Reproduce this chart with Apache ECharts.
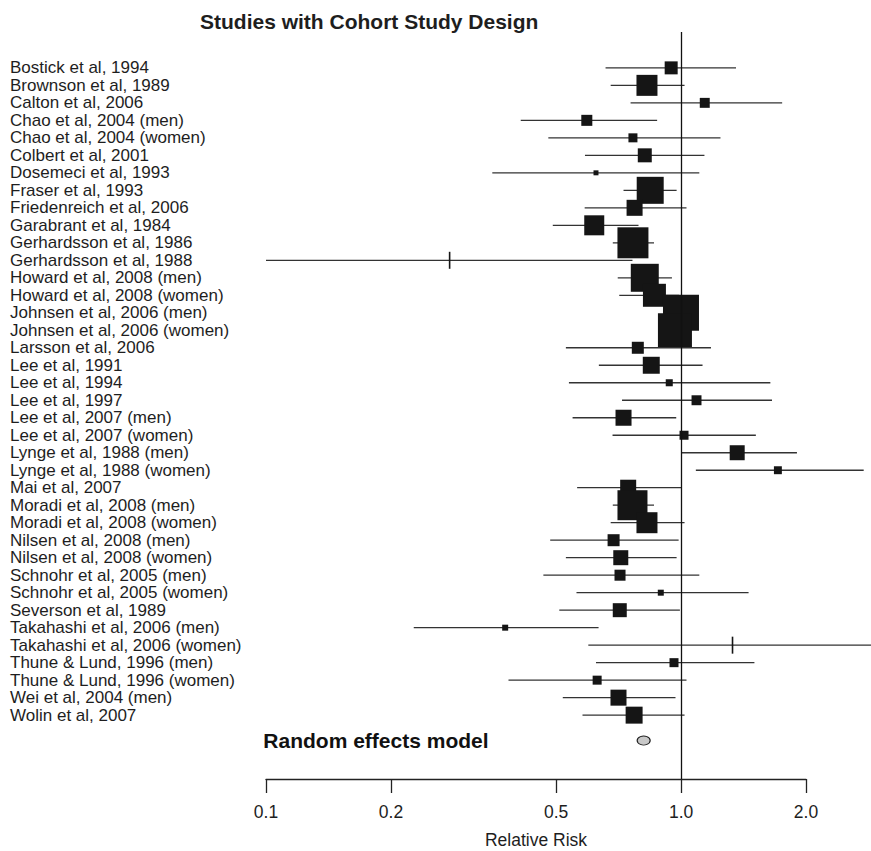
<!DOCTYPE html>
<html>
<head>
<meta charset="utf-8">
<title>Studies with Cohort Study Design</title>
<script src="https://cdn.jsdelivr.net/npm/echarts@6/dist/echarts.min.js"></script>
<style>
html,body{margin:0;padding:0;background:#fff;}
#forest{width:871px;height:851px;}
</style>
</head>
<body>
<div id="forest"></div>
<script>
var studies = [
    'Bostick et al, 1994', 'Brownson et al, 1989', 'Calton et al, 2006',
    'Chao et al, 2004 (men)', 'Chao et al, 2004 (women)', 'Colbert et al, 2001',
    'Dosemeci et al, 1993', 'Fraser et al, 1993', 'Friedenreich et al, 2006',
    'Garabrant et al, 1984', 'Gerhardsson et al, 1986', 'Gerhardsson et al, 1988',
    'Howard et al, 2008 (men)', 'Howard et al, 2008 (women)', 'Johnsen et al, 2006 (men)',
    'Johnsen et al, 2006 (women)', 'Larsson et al, 2006', 'Lee et al, 1991',
    'Lee et al, 1994', 'Lee et al, 1997', 'Lee et al, 2007 (men)',
    'Lee et al, 2007 (women)', 'Lynge et al, 1988 (men)', 'Lynge et al, 1988 (women)',
    'Mai et al, 2007', 'Moradi et al, 2008 (men)', 'Moradi et al, 2008 (women)',
    'Nilsen et al, 2008 (men)', 'Nilsen et al, 2008 (women)', 'Schnohr et al, 2005 (men)',
    'Schnohr et al, 2005 (women)', 'Severson et al, 1989', 'Takahashi et al, 2006 (men)',
    'Takahashi et al, 2006 (women)', 'Thune & Lund, 1996 (men)', 'Thune & Lund, 1996 (women)',
    'Wei et al, 2004 (men)', 'Wolin et al, 2007'
];
// relative risk and 95% CI
var rr = [0.947, 0.828, 1.141, 0.593, 0.766, 0.818, 0.624, 0.843, 0.773, 0.618,
    0.766, 0.277, 0.818, 0.863, 1.000, 0.967, 0.787, 0.848, 0.937, 1.090,
    0.727, 1.017, 1.366, 1.712, 0.746, 0.764, 0.828, 0.688, 0.716, 0.713,
    0.894, 0.712, 0.377, 1.331, 0.962, 0.628, 0.707, 0.771];
var lower = [0.658, 0.677, 0.756, 0.411, 0.479, 0.587, 0.351, 0.727, 0.586, 0.491,
    0.685, 0.100, 0.704, 0.710, 0.930, 0.900, 0.528, 0.634, 0.537, 0.721,
    0.548, 0.684, 1.004, 1.086, 0.562, 0.685, 0.677, 0.484, 0.528, 0.466,
    0.560, 0.509, 0.227, 0.598, 0.624, 0.384, 0.519, 0.579];
var upper = [1.357, 1.020, 1.753, 0.876, 1.245, 1.139, 1.107, 0.976, 1.031, 0.790,
    0.861, 0.764, 0.951, 0.990, 1.070, 1.040, 1.181, 1.127, 1.642, 1.657,
    0.974, 1.515, 1.903, 2.756, 1.000, 0.861, 1.020, 0.987, 0.976, 1.107,
    1.455, 0.994, 0.633, 3.500, 1.503, 1.031, 0.970, 1.020];
// weight in %, 0 = no box, only a tick
var weight = [0.75, 1.96, 0.44, 0.54, 0.36, 0.87, 0.11, 3.24, 1.14, 1.78,
    4.27, 0, 3.48, 2.35, 5.76, 5.14, 0.64, 1.28, 0.22, 0.44,
    1.14, 0.36, 1.00, 0.28, 1.14, 4.00, 1.96, 0.64, 1.00, 0.54,
    0.16, 0.87, 0.16, 0, 0.36, 0.36, 1.14, 1.28];
var pooled = 0.813;
var tickValues = [0.1, 0.2, 0.5, 1.0, 2.0];

var FONT = '"Liberation Sans", Arial, Helvetica, sans-serif';
var pooledRow = 39.45;

var rows = [];
for (var i = 0; i < studies.length; i++) {
    rows.push([i + 1, Math.log10(rr[i]), Math.log10(lower[i]), Math.log10(upper[i]), weight[i]]);
}
var rowIdx = studies.map(function (s, i) { return i + 1; });

function renderStudy(params, api) {
    var row = api.value(0);
    var cs = params.coordSys;
    var p = api.coord([api.value(1), row]);
    var a = api.coord([api.value(2), row]);
    var b = api.coord([api.value(3), row]);
    var x1 = Math.max(a[0], cs.x), x2 = Math.min(b[0], cs.x + cs.width);
    var w = api.value(4);
    var kids = [{
        type: 'line',
        shape: {x1: x1, y1: p[1], x2: x2, y2: p[1]},
        style: {stroke: '#333', lineWidth: 1.3}
    }];
    if (w > 0) {
        var s = 15 * Math.sqrt(w);
        kids.push({type: 'rect', shape: {x: p[0] - s / 2, y: p[1] - s / 2, width: s, height: s},
            style: {fill: '#151515'}});
    } else {
        kids.push({type: 'line', shape: {x1: p[0], y1: p[1] - 8.5, x2: p[0], y2: p[1] + 8.5},
            style: {stroke: '#151515', lineWidth: 1.6}});
    }
    return {type: 'group', children: kids};
}

var chart = echarts.init(document.getElementById('forest'), null, {renderer: 'svg'});
var option = {
    animation: false,
    backgroundColor: '#fff',
    title: {
        text: 'Studies with Cohort Study Design',
        left: 200, top: 11, padding: 0,
        textStyle: {fontSize: 21, fontWeight: 'bold', color: '#1e1e1e', fontFamily: FONT}
    },
    grid: [
        {left: 266, top: 32, width: 605, height: 747},
        {left: 266, top: 778, width: 540, height: 1}
    ],
    xAxis: [
        {gridIndex: 0, type: 'value', min: -1, max: Math.log10(2.87), show: false},
        {
            gridIndex: 1, type: 'value', min: -1, max: Math.log10(2),
            axisLine: {show: true, lineStyle: {color: '#222', width: 1.3}},
            axisTick: {show: true, length: 14, customValues: tickValues.map(Math.log10),
                lineStyle: {color: '#222', width: 1.3}},
            axisLabel: {
                customValues: tickValues.map(Math.log10), margin: 24,
                fontSize: 17.5, color: '#1e1e1e', fontFamily: FONT,
                formatter: function (v) { return Math.pow(10, v).toFixed(1); }
            },
            splitLine: {show: false},
            name: 'Relative Risk', nameLocation: 'middle', nameGap: 52,
            nameTextStyle: {fontSize: 17.5, color: '#1e1e1e', fontFamily: FONT}
        }
    ],
    yAxis: [
        {
            gridIndex: 0, type: 'value', inverse: true, min: -1.05, max: 41.65,
            axisLine: {show: false}, axisTick: {show: false}, splitLine: {show: false},
            axisLabel: {
                customValues: rowIdx, align: 'left', margin: 256,
                fontSize: 17, color: '#1e1e1e', fontFamily: FONT,
                formatter: function (v) { return studies[Math.round(v) - 1] || ''; }
            }
        },
        {gridIndex: 1, type: 'value', show: false}
    ],
    series: [
        {
            type: 'custom',
            xAxisIndex: 0, yAxisIndex: 0,
            renderItem: renderStudy,
            encode: {x: [1, 2, 3], y: 0},
            data: rows,
            markLine: {
                silent: true,
                symbol: ['none', 'none'],
                label: {show: false},
                lineStyle: {color: '#111', width: 1.3, type: 'solid', opacity: 1},
                emphasis: {disabled: true},
                data: [{xAxis: 0}]
            }
        },
        {
            type: 'scatter',
            xAxisIndex: 0, yAxisIndex: 0,
            symbol: 'circle',
            symbolSize: [13, 9],
            itemStyle: {color: '#c8c8c8', borderColor: '#222', borderWidth: 1, opacity: 1},
            label: {
                show: true, position: 'left', distance: 148,
                formatter: 'Random effects model',
                fontSize: 21, fontWeight: 'bold', color: '#111', opacity: 1,
                fontFamily: FONT, textBorderWidth: 0
            },
            emphasis: {disabled: true},
            data: [[Math.log10(pooled), pooledRow]]
        }
    ]
};
chart.setOption(option);
</script>
</body>
</html>
